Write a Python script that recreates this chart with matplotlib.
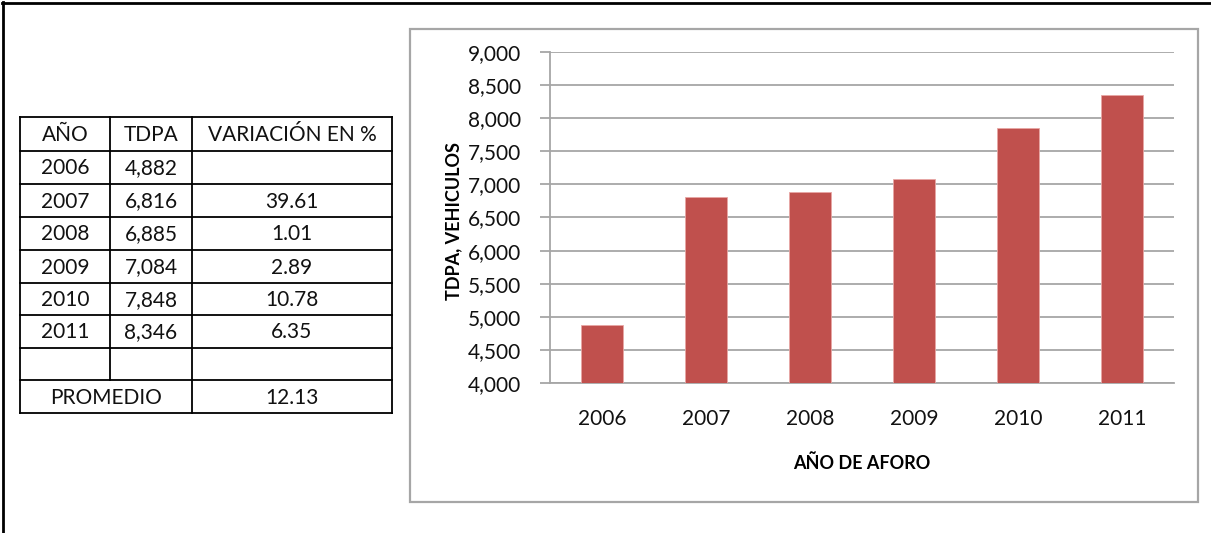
import matplotlib
matplotlib.use("Agg")
import matplotlib.pyplot as plt
from matplotlib.patches import Rectangle

plt.rcParams['font.family'] = ['Lato', 'DejaVu Sans']

years = ['2006', '2007', '2008', '2009', '2010', '2011']
tdpa = [4882, 6816, 6885, 7084, 7848, 8346]
tdpa_text = ['4,882', '6,816', '6,885', '7,084', '7,848', '8,346']
variacion = ['', '39.61', '1.01', '2.89', '10.78', '6.35']
headers = ['AÑO', 'TDPA', 'VARIACIÓN EN %']
promedio_label = 'PROMEDIO'
promedio = '12.13'
yticks = [4000, 4500, 5000, 5500, 6000, 6500, 7000, 7500, 8000, 8500, 9000]

W, H = 1211, 533
fig = plt.figure(figsize=(W / 100, H / 100), dpi=100)

# overlay axes in pixel coords for borders and table
ov = fig.add_axes([0, 0, 1, 1])
ov.set_xlim(0, W)
ov.set_ylim(H, 0)
ov.axis('off')

ov.plot([2, 1211], [2.5, 2.5], color='black', lw=2)
ov.plot([2.5, 2.5], [2, 533], color='black', lw=2)
ov.add_patch(Rectangle((410, 29), 788, 473, fill=False, edgecolor='#A6A6A6', lw=1.6))

# table
col_x = [20, 110, 192, 392]
row_y = [117, 151, 184, 217, 250, 283, 315, 348, 380, 413]
lw_t = 1.3
for y in row_y:
    ov.plot([col_x[0], col_x[-1]], [y, y], color='black', lw=lw_t)
ov.plot([col_x[0], col_x[0]], [row_y[0], row_y[-1]], color='black', lw=lw_t)
ov.plot([col_x[3], col_x[3]], [row_y[0], row_y[-1]], color='black', lw=lw_t)
ov.plot([col_x[2], col_x[2]], [row_y[0], row_y[-1]], color='black', lw=lw_t)
ov.plot([col_x[1], col_x[1]], [row_y[0], row_y[-2]], color='black', lw=lw_t)

tfs = 15
def cell(r, c, s, c2=None):
    x0 = col_x[c]
    x1 = col_x[c2 + 1] if c2 is not None else col_x[c + 1]
    ov.text((x0 + x1) / 2, (row_y[r] + row_y[r + 1]) / 2 + 1, s,
            ha='center', va='center', fontsize=tfs, color='#111111')

for j, h in enumerate(headers):
    cell(0, j, h)
for i in range(len(years)):
    cell(i + 1, 0, years[i])
    cell(i + 1, 1, tdpa_text[i])
    cell(i + 1, 2, variacion[i])
cell(8, 0, promedio_label, c2=1)
cell(8, 2, promedio)

# chart
ax = fig.add_axes([550 / W, 1 - 383 / H, 624 / W, 331 / H])
x = range(len(years))
ax.bar(x, tdpa, width=0.4, color='#C0504D', edgecolor='#E8A6A4', linewidth=0.6, zorder=3)
ax.set_xlim(-0.5, len(years) - 0.5)
ax.set_ylim(4000, 9000)
ax.set_yticks(yticks)
ax.set_yticklabels(['{:,}'.format(v) for v in yticks])
ax.set_xticks(list(x))
ax.set_xticklabels(years)
ax.yaxis.grid(True, color='#A6A6A6', lw=1.3, zorder=0)
for s in ['top', 'right']:
    ax.spines[s].set_visible(False)
for s in ['left', 'bottom']:
    ax.spines[s].set_color('#A6A6A6')
    ax.spines[s].set_linewidth(1.3)
ax.tick_params(axis='y', length=7, width=1.3, color='#A6A6A6', labelsize=15, labelcolor='#111111', pad=14)
ax.tick_params(axis='x', length=0, labelsize=15, labelcolor='#111111', pad=19)
ax.set_ylabel('TDPA, VEHICULOS', fontsize=13, fontweight='bold')
ax.yaxis.set_label_coords(-0.14, 0.489)
ax.set_xlabel('AÑO DE AFORO', fontsize=13, fontweight='bold', labelpad=18)

fig.savefig('out.png', dpi=100)
